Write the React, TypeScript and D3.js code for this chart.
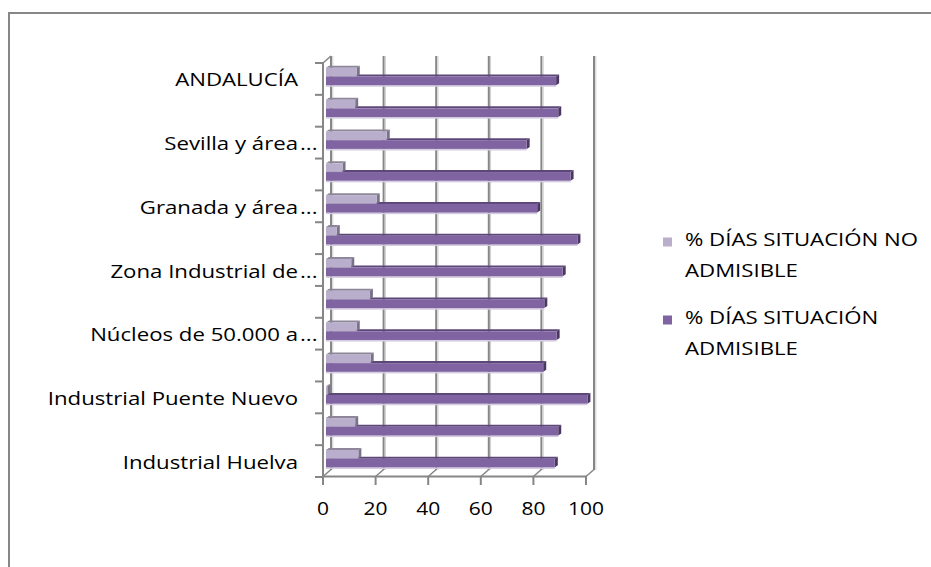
import React from "react";
import * as d3 from "d3";

// Categories from top to bottom (only every other label is shown on the axis)
const categories = [
  "ANDALUCÍA",
  "Málaga y Costa del Sol",
  "Sevilla y área metropolitana",
  "Córdoba",
  "Granada y área metropolitana",
  "Bahía de Cádiz",
  "Zona Industrial de Bailén",
  "Bahía de Algeciras",
  "Núcleos de 50.000 a 250.000 habitantes",
  "Zonas rurales",
  "Industrial Puente Nuevo",
  "Zona Industrial de Carboneras",
  "Industrial Huelva",
];
// Visible axis labels (as truncated in the original)
const shownLabels = [
  { text: "ANDALUCÍA", cut: false },
  { text: "Sevilla y área", cut: true },
  { text: "Granada y área", cut: true },
  { text: "Zona Industrial de", cut: true },
  { text: "Núcleos de 50.000 a", cut: true },
  { text: "Industrial Puente Nuevo", cut: false },
  { text: "Industrial Huelva", cut: false },
];
const noAdmisible = [11.7, 11.1, 23.1, 6.3, 19.3, 4.1, 9.6, 16.7, 11.7, 17.0, 0.5, 11.1, 12.3];
const admisible = [87.5, 88.3, 76.3, 93.0, 80.3, 95.6, 90.0, 83.0, 87.7, 82.6, 99.4, 88.3, 87.0];
const seriesNames = ["% DÍAS SITUACIÓN NO|ADMISIBLE", "% DÍAS SITUACIÓN|ADMISIBLE"];
const xTicks = [0, 20, 40, 60, 80, 100];

const FONT = "'Open Sans', sans-serif";
const SX = 1.2;

export default function App() {
  const x = d3.scaleLinear().domain([0, 100]).range([323, 586]);
  const xb = d3.scaleLinear().domain([0, 100]).range([326, 589]);
  const y = d3.scaleBand<string>().domain(categories).range([63, 477]).padding(0);
  const gdx = 8, gdy = -7; // back wall offset
  const bdx = 3, bdy = 2; // bar depth

  const bar = (key: string, x0: number, x1: number, top: number, h: number, front: string, topC: string, side: string) => (
    <g key={key}>
      <polygon points={`${x0},${top} ${x0 + bdx},${top - bdy} ${x1 + bdx},${top - bdy} ${x1},${top}`} fill={topC} />
      <polygon points={`${x1},${top} ${x1 + bdx},${top - bdy} ${x1 + bdx},${top + h - bdy} ${x1},${top + h}`} fill={side} />
      <rect x={x0} y={top} width={Math.max(0, x1 - x0)} height={h} fill={front} />
    </g>
  );

  return (
    <svg width={931} height={567} style={{ position: "absolute", left: 0, top: 0 }}>
      <rect x={0} y={0} width={931} height={567} fill="#fff" />
      {/* outer frame */}
      <path d="M9,567 L9,13 L931,13" fill="none" stroke="#878787" strokeWidth={2} />

      {/* back gridlines */}
      {xTicks.map((t) => (
        <g key={"g" + t}>
          <line x1={x(t) + gdx} x2={x(t) + gdx} y1={56} y2={470} stroke="#868686" strokeWidth={2} />
          <line x1={x(t) + gdx + 1.8} x2={x(t) + gdx + 1.8} y1={56} y2={470} stroke="#cfcfcf" strokeWidth={1} />
        </g>
      ))}
      {/* bottom floor diagonals */}
      {xTicks.map((t) => (
        <line key={"d" + t} x1={x(t)} y1={476.5} x2={x(t) + gdx} y2={476.5 + gdy} stroke="#868686" strokeWidth={1.5} />
      ))}
      {/* left wall */}
      <line x1={323} x2={323 + gdx} y1={63} y2={63 + gdy} stroke="#868686" strokeWidth={1.5} />
      <line x1={323} x2={323} y1={63} y2={477} stroke="#868686" strokeWidth={2} />
      {categories.map((c) => (
        <line key={"yt" + c} x1={315} x2={323} y1={y(c)!} y2={y(c)!} stroke="#868686" strokeWidth={2} />
      ))}
      <line x1={315} x2={323} y1={477} y2={477} stroke="#868686" strokeWidth={2} />
      {/* bottom axis */}
      <line x1={322} x2={587} y1={476.5} y2={476.5} stroke="#868686" strokeWidth={2} />
      {xTicks.map((t) => (
        <line key={"xt" + t} x1={x(t)} x2={x(t)} y1={476} y2={485} stroke="#868686" strokeWidth={2} />
      ))}

      {/* bars */}
      {categories.map((c, i) => {
        const b = y(c)!;
        return (
          <g key={"b" + i}>
            <rect x={xb(0)} y={b + 22.2} width={xb(admisible[i]) - xb(0)} height={1.6} fill="#d4cce0" />
            {bar("a" + i, xb(0), xb(admisible[i]), b + 13.5, 8.7, "#8064A2", "#5d4779", "#4a3862")}
            {bar("n" + i, xb(0), xb(noAdmisible[i]), b + 4.8, 8.6, "#B9AECB", "#8d8699", "#7a7289")}
          </g>
        );
      })}

      {/* category labels */}
      {shownLabels.map((l, k) => {
        const c = categories[k * 2];
        const yy = y(c)! + y.bandwidth() / 2 + 7.5;
        return (
          <g key={"l" + k} fontFamily={FONT} fontSize={18.5} fill="#000">
            <text transform={`translate(298,${yy}) scale(${SX},1)`} textAnchor="end">{l.text}</text>
            {l.cut && <text transform={`translate(300,${yy}) scale(${SX},1)`}>...</text>}
          </g>
        );
      })}

      {/* x tick labels */}
      {xTicks.map((t) => (
        <text key={"xl" + t} transform={`translate(${x(t)},515) scale(${SX},1)`} textAnchor="middle" fontFamily={FONT} fontSize={17.5} fill="#000">
          {t}
        </text>
      ))}

      {/* legend */}
      {seriesNames.map((s, k) => {
        const top = 246 + k * 78;
        const lines = s.split("|");
        return (
          <g key={"lg" + k} fontFamily={FONT} fontSize={18.5} fill="#000">
            <rect x={663} y={top - 8.5} width={9} height={9} fill={k === 0 ? "#B9AECB" : "#8064A2"} />
            {lines.map((ln, j) => (
              <text key={j} transform={`translate(685,${top + j * 30.5}) scale(${SX},1)`}>{ln}</text>
            ))}
          </g>
        );
      })}
    </svg>
  );
}
